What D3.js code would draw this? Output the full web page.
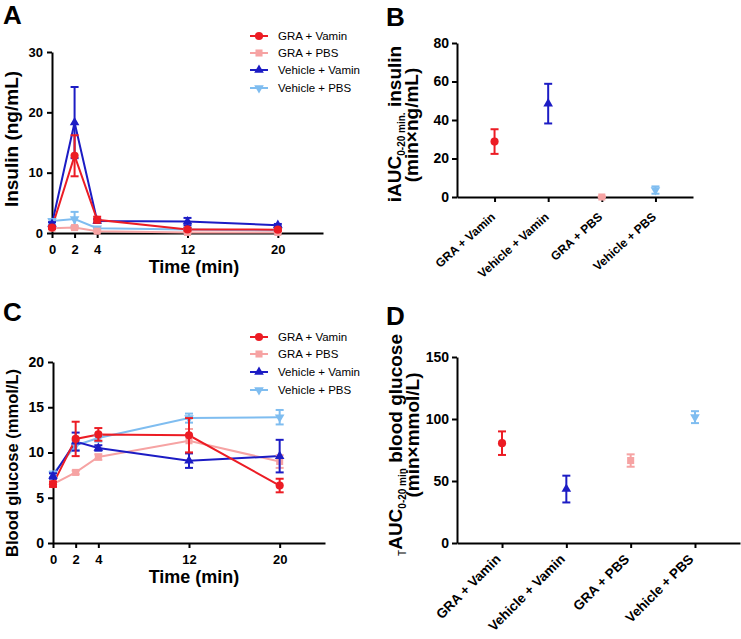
<!DOCTYPE html>
<html><head><meta charset="utf-8">
<script src="https://cdn.jsdelivr.net/npm/d3@7"></script>
<style>
body{margin:0;background:#fff;}
svg{display:block;font-family:"Liberation Sans",Arial,Helvetica,sans-serif;}
.tick text{font-weight:bold;fill:#000;}
</style></head><body>
<svg id="chart" width="741" height="639"></svg>
<script>
// ---------- data ----------
const times = [0, 2, 4, 12, 20];
const seriesNames = ["GRA + Vamin", "GRA + PBS", "Vehicle + Vamin", "Vehicle + PBS"];
const seriesColors = ["#ec1c24", "#f6a3a3", "#1c1cc4", "#7fbdf0"];
const seriesSymbols = ["circle", "square", "triangleUp", "triangleDown"];

// Panel A: insulin (ng/mL)
const insulinGraVamin = [0.9, 12.8, 2.2, 0.6, 0.55];
const insulinGraVaminSem = [0.2, 3.4, 0.5, 0.2, 0.2];
const insulinGraPbs = [0.8, 0.9, 0.3, 0.1, 0.1];
const insulinGraPbsSem = [0.1, 0.2, 0.1, 0.05, 0.05];
const insulinVehVamin = [1.5, 18.3, 2.0, 1.9, 1.3];
const insulinVehVaminSem = [0.3, 5.9, 0.3, 0.6, 0.2];
const insulinVehPbs = [2.0, 2.3, 0.8, 0.6, 0.4];
const insulinVehPbsSem = [0.3, 1.2, 0.1, 0.1, 0.1];
const insulinTicks = [0, 10, 20, 30];

// Panel B: iAUC insulin
const aucCategories = ["GRA + Vamin", "Vehicle + Vamin", "GRA + PBS", "Vehicle + PBS"];
const aucSeriesIndex = [0, 2, 1, 3];
const iaucInsulin = [28.8, 48.5, 0, 3.6];
const iaucInsulinSem = [6.4, 10.3, 0.3, 1.9];
const iaucTicks = [0, 20, 40, 60, 80];

// Panel C: blood glucose (mmol/L)
const glucoseGraVamin = [6.5, 11.5, 12.0, 11.9, 6.35];
const glucoseGraVaminSem = [0.3, 1.9, 0.7, 1.9, 0.75];
const glucoseGraPbs = [6.5, 7.8, 9.5, 11.3, 9.0];
const glucoseGraPbsSem = [0.2, 0.2, 0.3, 1.3, 0.7];
const glucoseVehVamin = [7.4, 11.2, 10.5, 9.1, 9.6];
const glucoseVehVaminSem = [0.3, 1.0, 0.3, 0.8, 1.8];
const glucoseVehPbs = [7.6, 10.8, 11.6, 13.8, 13.9];
const glucoseVehPbsSem = [0.3, 0.5, 0.4, 0.5, 0.8];
const glucoseTicks = [0, 5, 10, 15, 20];

// Panel D: total AUC blood glucose
const taucGlucose = [80.5, 43.5, 66.5, 101.5];
const taucGlucoseSem = [9.5, 10.8, 5.0, 4.8];
const taucTicks = [0, 50, 100, 150];

// ---------- helpers ----------
const svg = d3.select("#chart");
const symbolFor = {
  circle: {type: d3.symbolCircle, size: 52, rot: 0},
  square: {type: d3.symbolSquare, size: 50, rot: 0},
  triangleUp: {type: d3.symbolTriangle, size: 40, rot: 0},
  triangleDown: {type: d3.symbolTriangle, size: 40, rot: 180}
};
function drawMarker(g, x, y, si) {
  const s = symbolFor[seriesSymbols[si]];
  g.append("path")
    .attr("d", d3.symbol().type(s.type).size(s.size)())
    .attr("transform", `translate(${x},${y}) rotate(${s.rot})`)
    .attr("fill", seriesColors[si]);
}
function errorBar(g, x, yTop, yBot, color, cap) {
  g.append("line").attr("x1", x).attr("x2", x).attr("y1", yTop).attr("y2", yBot)
    .attr("stroke", color).attr("stroke-width", 2);
  [yTop, yBot].forEach(yy => g.append("line").attr("x1", x - cap).attr("x2", x + cap)
    .attr("y1", yy).attr("y2", yy).attr("stroke", color).attr("stroke-width", 2));
}
function styleAxis(g, fs) {
  g.select(".domain").attr("stroke", "#000").attr("stroke-width", 2);
  g.selectAll(".tick line").attr("stroke", "#000").attr("stroke-width", 2);
  g.selectAll(".tick text").style("font-size", fs + "px");
}
function panelLabel(txt, x, y) {
  svg.append("text").attr("x", x).attr("y", y).text(txt)
    .style("font-size", "26px").style("font-weight", "bold");
}

// ---------- time course panel ----------
function timePanel(cfg) {
  const x = d3.scaleLinear().domain([0, 24]).range(cfg.xr);
  const y = d3.scaleLinear().domain(cfg.yd).range(cfg.yr);
  const g = svg.append("g");
  const xa = g.append("g").attr("transform", `translate(0,${cfg.yr[0]})`)
    .call(d3.axisBottom(x).tickValues(times).tickFormat(d3.format("d")).tickSize(5).tickPadding(7).tickSizeOuter(0));
  styleAxis(xa, 13);
  const ya = g.append("g").attr("transform", `translate(${cfg.xr[0]},0)`)
    .call(d3.axisLeft(y).tickValues(cfg.ticks).tickSize(5).tickPadding(4).tickSizeOuter(0));
  styleAxis(ya, cfg.yfs);

  const order = [3, 1, 2, 0];
  order.forEach(si => {
    const m = cfg.means[si];
    const line = d3.line().x((d, i) => x(times[i])).y(d => y(d));
    g.append("path").datum(m).attr("d", line).attr("fill", "none")
      .attr("stroke", seriesColors[si]).attr("stroke-width", 2);
  });
  order.forEach(si => {
    const m = cfg.means[si], s = cfg.sems[si];
    m.forEach((v, i) => {
      errorBar(g, x(times[i]), y(v + s[i]), y(Math.max(0, v - s[i])), seriesColors[si], 4);
      drawMarker(g, x(times[i]), y(v), si);
    });
  });
  // x title
  g.append("text").attr("x", 194).attr("y", cfg.yr[0] + 40)
    .attr("text-anchor", "middle").text("Time (min)")
    .style("font-size", "18px").style("font-weight", "bold");
  // y title
  g.append("text").attr("transform", `translate(${cfg.ytx},${cfg.yty}) rotate(-90)`)
    .attr("text-anchor", "middle").text(cfg.ytitle)
    .style("font-size", cfg.ytfs + "px").style("font-weight", "bold");
  // legend
  seriesNames.forEach((n, si) => {
    const ly = cfg.legY[si];
    g.append("line").attr("x1", 250).attr("x2", 268).attr("y1", ly).attr("y2", ly)
      .attr("stroke", seriesColors[si]).attr("stroke-width", 2);
    drawMarker(g, 259, ly, si);
    g.append("text").attr("x", 278).attr("y", ly).attr("dy", "0.35em").text(n)
      .style("font-size", "11.5px");
  });
}

timePanel({
  xr: [52, 323], yd: [0, 30], yr: [233, 52], ticks: insulinTicks, yfs: 13,
  means: [insulinGraVamin, insulinGraPbs, insulinVehVamin, insulinVehPbs],
  sems: [insulinGraVaminSem, insulinGraPbsSem, insulinVehVaminSem, insulinVehPbsSem],
  ytitle: "Insulin (ng/mL)", ytx: 18, yty: 139, ytfs: 19,
  legY: [36, 53, 70, 88]
});
timePanel({
  xr: [53, 325], yd: [0, 20], yr: [543, 362], ticks: glucoseTicks, yfs: 14,
  means: [glucoseGraVamin, glucoseGraPbs, glucoseVehVamin, glucoseVehPbs],
  sems: [glucoseGraVaminSem, glucoseGraPbsSem, glucoseVehVaminSem, glucoseVehPbsSem],
  ytitle: "Blood glucose (mmol/L)", ytx: 18, yty: 463, ytfs: 16.5,
  legY: [337, 354, 372, 390]
});

// ---------- AUC panels ----------
function aucPanel(cfg) {
  const x = d3.scalePoint().domain(aucCategories).range(cfg.xr).padding(0.7);
  const y = d3.scaleLinear().domain(cfg.yd).range(cfg.yr);
  const g = svg.append("g");
  const xa = g.append("g").attr("transform", `translate(0,${cfg.yr[0]})`)
    .call(d3.axisBottom(x).tickSize(5).tickSizeOuter(0));
  styleAxis(xa, cfg.cfs);
  xa.selectAll(".tick text").attr("y", 0).attr("dy", 0)
    .attr("transform", `translate(${cfg.lab[0]},${cfg.lab[1]}) rotate(${cfg.angle})`)
    .attr("text-anchor", "end");
  const ya = g.append("g").attr("transform", `translate(${cfg.xr[0]},0)`)
    .call(d3.axisLeft(y).tickValues(cfg.ticks).tickSize(5).tickPadding(3).tickSizeOuter(0));
  styleAxis(ya, 14);
  aucCategories.forEach((c, i) => {
    const si = aucSeriesIndex[i];
    const v = cfg.vals[i], s = cfg.sems[i];
    errorBar(g, x(c), y(v + s), y(Math.max(0, v - s)), seriesColors[si], 4);
    drawMarker(g, x(c), y(v), si);
  });
  // y title (two lines)
  const t1 = g.append("text").attr("transform", `translate(${cfg.t1x},${cfg.t1y}) rotate(-90)`)
    .attr("text-anchor", "middle").style("font-size", cfg.tfs + "px").style("font-weight", "bold");
  cfg.line1(t1);
  g.append("text").attr("transform", `translate(${cfg.t2x},${cfg.t2y}) rotate(-90)`)
    .attr("text-anchor", "middle").style("font-size", cfg.tfs + "px").style("font-weight", "bold")
    .text(cfg.line2);
}

aucPanel({
  xr: [457, 693], yd: [0, 80], yr: [197, 43], ticks: iaucTicks, cfs: 12, angle: -42,
  lab: [1, 21], vals: iaucInsulin, sems: iaucInsulinSem,
  t1x: 401, t1y: 124, t2x: 418, t2y: 125, tfs: 19,
  line1: t => {
    t.append("tspan").text("iAUC");
    t.append("tspan").text("0-20 min.").attr("dy", 4).style("font-size", "10px");
    t.append("tspan").text(" insulin").attr("dy", -4);
  },
  line2: "(min×ng/mL)"
});
aucPanel({
  xr: [457, 740], yd: [0, 150], yr: [543, 357], ticks: taucTicks, cfs: 13.5, angle: -45,
  lab: [-1, 17], vals: taucGlucose, sems: taucGlucoseSem,
  t1x: 402, t1y: 445, t2x: 419, t2y: 435, tfs: 19,
  line1: t => {
    t.append("tspan").text("T").attr("dy", 4).style("font-size", "10px").style("font-weight", "normal");
    t.append("tspan").text("AUC").attr("dy", -4);
    t.append("tspan").text("0-20 min").attr("dy", 4).style("font-size", "10px");
    t.append("tspan").text(" blood glucose").attr("dy", -4);
  },
  line2: "(min×mmol/L)"
});

panelLabel("A", 3, 24);
panelLabel("B", 386, 26);
panelLabel("C", 3, 321);
panelLabel("D", 386, 325);
</script>
</body></html>
